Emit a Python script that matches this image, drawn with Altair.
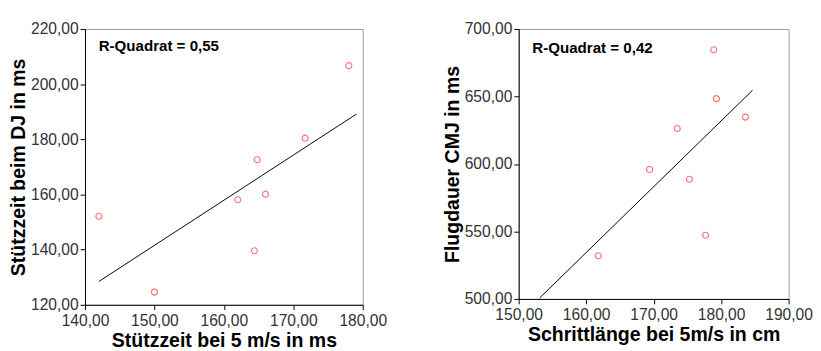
import altair as alt
import pandas as pd

# Left panel data
left_x = [142.0, 150.0, 162.0, 164.8, 164.4, 166.0, 171.7, 178.0]
left_y = [152.1, 124.6, 158.1, 172.6, 139.6, 160.1, 180.4, 206.7]
left_xticks = [140, 150, 160, 170, 180]
left_yticks = [120, 140, 160, 180, 200, 220]
left_r2 = "R-Quadrat = 0,55"

# Right panel data
right_x = [161.8, 169.4, 173.5, 175.3, 177.7, 178.9, 179.3, 183.6]
right_y = [532.0, 595.9, 626.3, 588.7, 547.2, 684.6, 648.4, 634.7]
right_xticks = [150, 160, 170, 180, 190]
right_yticks = [500, 550, 600, 650, 700]
right_r2 = "R-Quadrat = 0,42"

FONT = "Liberation Sans"
fmt = "replace(format(datum.value, '.2f'), '.', ',')"


def panel(xs, ys, xticks, yticks, xtitle, ytitle, r2, extent, w, h, ty, top_gap=None):
    df = pd.DataFrame({"x": xs, "y": ys})
    base = alt.Chart(df)
    xenc = alt.X("x:Q",
                 scale=alt.Scale(domain=[xticks[0], xticks[-1]], nice=False, zero=False),
                 axis=alt.Axis(values=xticks, labelExpr=fmt, title=xtitle))
    yenc = alt.Y("y:Q",
                 scale=alt.Scale(domain=[yticks[0], yticks[-1]], nice=False, zero=False),
                 axis=alt.Axis(values=yticks, labelExpr=fmt, title=ytitle))
    line = base.transform_regression("x", "y", extent=extent).mark_line(
        color="black", strokeWidth=1, clip=True).encode(x=xenc, y=yenc)
    pts = base.mark_point(shape="circle", filled=False, color="#ff3b3b",
                          size=38, strokeWidth=1.2).encode(x=xenc, y=yenc)
    txt = alt.Chart(pd.DataFrame({"t": [r2]})).mark_text(
        align="left", baseline="middle", fontWeight="bold", fontSize=15.5,
        font=FONT, color="black").encode(
        x=alt.value(14), y=alt.value(ty), text="t:N")
    ch = alt.layer(line, pts, txt).properties(width=w, height=h)
    if top_gap is not None:
        ch = ch.properties(title=alt.TitleParams(" ", fontSize=1, offset=top_gap))
    return ch


left = panel(left_x, left_y, left_xticks, left_yticks,
             "Stützzeit bei 5 m/s in ms", "Stützzeit beim DJ in ms",
             left_r2, [142.0, 179.1], 285, 283, 18)
right = panel(right_x, right_y, right_xticks, right_yticks,
              "Schrittlänge bei 5m/s in cm", "Flugdauer CMJ in ms",
              right_r2, [153.1, 184.65], 277, 277, 20, top_gap=3)

chart = alt.hconcat(left, right, spacing=56).configure_view(
    stroke="#999999", strokeWidth=1
).configure_axis(
    grid=False, domainColor="black", tickColor="black", tickSize=5,
    labelColor="#333333", labelFontSize=16, labelFont=FONT,
    labelFlush=False,
    titleFont=FONT, titleFontSize=20, titleFontWeight="bold", titleColor="black",
).configure_axisY(titlePadding=2, labelPadding=2).configure_axisX(
    titlePadding=3, labelPadding=3
).properties(
    padding={"left": 0, "top": 4, "right": 0, "bottom": 0}
)

chart.save("out.html", embed_options={"renderer": "svg", "actions": False})
